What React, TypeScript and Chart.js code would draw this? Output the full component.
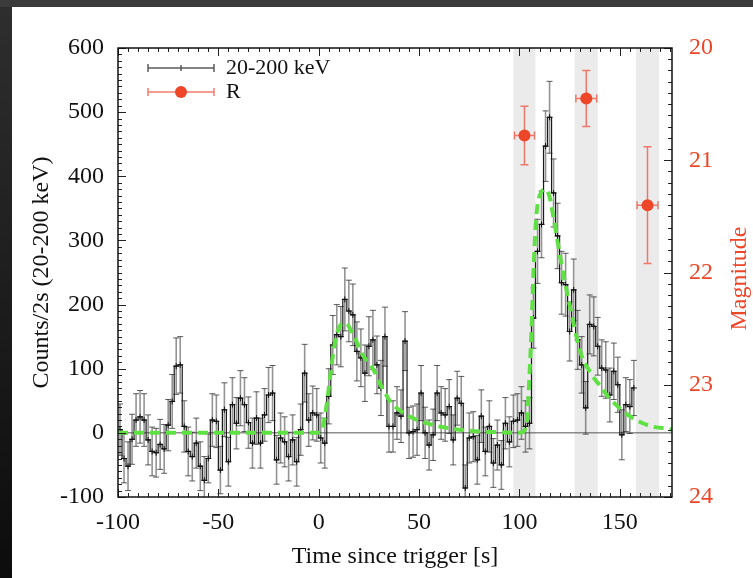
import React, { useEffect, useRef } from "react";
import { Chart, registerables } from "chart.js";

Chart.register(...registerables);

const FONT = "'Liberation Serif', 'DejaVu Serif', serif";
const RED = "#ee4628";
const INK = "#111111";

// 2 s bin centres (s)
const binTimes = [
  -99, -97, -95, -93, -91, -89, -87, -85, -83, -81,
  -79, -77, -75, -73, -71, -69, -67, -65, -63, -61,
  -59, -57, -55, -53, -51, -49, -47, -45, -43, -41,
  -39, -37, -35, -33, -31, -29, -27, -25, -23, -21,
  -19, -17, -15, -13, -11, -9, -7, -5, -3, -1,
  1, 3, 5, 7, 9, 11, 13, 15, 17, 19,
  21, 23, 25, 27, 29, 31, 33, 35, 37, 39,
  41, 43, 45, 47, 49, 51, 53, 55, 57, 59,
  61, 63, 65, 67, 69, 71, 73, 75, 77, 79,
  81, 83, 85, 87, 89, 91, 93, 95, 97, 99,
  101, 103, 105, 107, 109, 111, 113, 115, 117, 119,
  121, 123, 125, 127, 129, 131, 133, 135, 137, 139,
  141, 143, 145, 147, 149, 151, 153, 155, 157,
];

// Counts / 2 s (20-200 keV)
const counts = [
  5, -40, -52, -10, 20, 25, 20, -11, -29, -31,
  -18, -25, 12, 49, 104, 106, 10, -29, -37, -16,
  -52, -74, -40, 20, 18, -58, 36, -45, 44, 15,
  54, 44, 16, -16, 23, -16, 28, 59, 62, -42,
  -8, -14, -37, -11, -45, 5, 93, 20, 31, 28,
  -8, -16, 57, 137, 153, 150, 208, 190, 184, 127,
  117, 93, 135, 145, 106, 70, 150, 10, 10, 31,
  26, 143, 0, 2, 5, 62, 0, -19, -3, 62,
  31, 28, 41, -11, 54, 46, -86, -8, -6, -42,
  26, -29, 10, -47, -19, -50, 15, -14, 18, 20,
  31, 10, 15, 179, 283, 325, 447, 492, 374, 307,
  234, 231, 158, 223, 145, 106, 39, 169, 166, 135,
  101, 98, 59, 96, 75, -3, 44, 41, 70,
];

const countErrors = [
  40, 38, 38, 39, 41, 41, 41, 39, 38, 38,
  39, 38, 40, 42, 44, 44, 40, 38, 38, 39,
  38, 37, 38, 41, 41, 37, 42, 38, 42, 40,
  43, 42, 40, 39, 41, 39, 41, 43, 43, 38,
  39, 39, 38, 39, 38, 40, 45, 41, 42, 41,
  39, 39, 43, 46, 47, 47, 49, 48, 48, 46,
  45, 44, 46, 46, 45, 43, 46, 40, 40, 41,
  41, 46, 40, 40, 40, 43, 40, 39, 40, 43,
  41, 41, 42, 39, 42, 42, 36, 39, 39, 38,
  41, 38, 40, 38, 39, 38, 40, 39, 41, 41,
  41, 40, 40, 47, 50, 52, 55, 56, 53, 51,
  49, 49, 46, 48, 46, 44, 41, 46, 46, 45,
  44, 44, 42, 44, 43, 39, 42, 42, 43,
];

// Pulse model (green dashed)
const modelTimes = [
  -100, -10, 0, 1, 2, 4, 6, 8, 10, 12, 14, 16, 18, 20, 22, 24, 26, 28, 30,
  32, 34, 36, 40, 45, 50, 55, 60, 70, 80, 90, 100, 102, 104, 105, 106, 107,
  108, 109, 111, 113, 115, 117, 119, 121, 123, 125, 127, 129, 131, 133, 135,
  137, 140, 144, 148, 152, 156, 160, 166, 172, 176,
];
const modelCounts = [
  0, 0, 0, 1, 8, 45, 95, 140, 163, 171, 170, 160, 148, 134, 121, 112, 105, 94, 80,
  68, 57, 47, 36, 26, 19, 14, 10, 5, 2, 1, 0, 2, 30, 90, 160, 250,
  320, 355, 376, 380, 368, 335, 298, 262, 230, 200, 170, 142, 120, 106, 96,
  86, 74, 57, 44, 33, 24, 17, 10, 7, 5,
];

// R-band photometry
const rTimes = [102.5, 133.3, 163.8];
const rTimeErrors = [5, 5.2, 5.2];
const rMagnitudes = [20.78, 20.45, 21.4];
const rMagErrors = [0.26, 0.25, 0.52];

// Shaded exposure windows
const bandStarts = [97, 127.5, 158];
const bandEnds = [108, 139, 169.5];

const decorPlugin = {
  id: "decor",
  beforeDatasetsDraw(chart: any) {
    const { ctx, chartArea: a, scales } = chart;
    const x = scales.x, y = scales.y, y2 = scales.y2;
    ctx.save();
    ctx.beginPath();
    ctx.rect(a.left, a.top, a.right - a.left, a.bottom - a.top);
    ctx.clip();
    // bands
    ctx.fillStyle = "#ebebeb";
    bandStarts.forEach((s, i) => {
      const x1 = x.getPixelForValue(s);
      const x2 = x.getPixelForValue(bandEnds[i]);
      ctx.fillRect(x1, a.top, x2 - x1, a.bottom - a.top);
    });
    // zero line
    const y0 = y.getPixelForValue(0);
    ctx.strokeStyle = "#555";
    ctx.lineWidth = 1;
    ctx.beginPath();
    ctx.moveTo(a.left, y0);
    ctx.lineTo(a.right, y0);
    ctx.stroke();
    // count error bars
    binTimes.forEach((t, i) => {
      const px = x.getPixelForValue(t);
      const lo = y.getPixelForValue(counts[i] - countErrors[i]);
      const hi = y.getPixelForValue(counts[i] + countErrors[i]);
      ctx.strokeStyle = "rgba(60,60,60,0.55)";
      ctx.lineWidth = 1.6;
      ctx.beginPath();
      ctx.moveTo(px, lo);
      ctx.lineTo(px, hi);
      ctx.stroke();
      ctx.strokeStyle = "rgba(40,40,40,0.75)";
      ctx.lineWidth = 1;
      ctx.beginPath();
      ctx.moveTo(px - 3, lo);
      ctx.lineTo(px + 3, lo);
      ctx.moveTo(px - 3, hi);
      ctx.lineTo(px + 3, hi);
      ctx.stroke();
    });
    // R error bars
    ctx.strokeStyle = "rgba(238,80,60,0.75)";
    ctx.lineWidth = 1.5;
    rTimes.forEach((t, i) => {
      const px = x.getPixelForValue(t);
      const py = y2.getPixelForValue(rMagnitudes[i]);
      const xl = x.getPixelForValue(t - rTimeErrors[i]);
      const xr = x.getPixelForValue(t + rTimeErrors[i]);
      const yt = y2.getPixelForValue(rMagnitudes[i] - rMagErrors[i]);
      const yb = y2.getPixelForValue(rMagnitudes[i] + rMagErrors[i]);
      ctx.beginPath();
      ctx.moveTo(xl, py);
      ctx.lineTo(xr, py);
      ctx.moveTo(xl, py - 4);
      ctx.lineTo(xl, py + 4);
      ctx.moveTo(xr, py - 4);
      ctx.lineTo(xr, py + 4);
      ctx.moveTo(px, yt);
      ctx.lineTo(px, yb);
      ctx.moveTo(px - 4, yt);
      ctx.lineTo(px + 4, yt);
      ctx.moveTo(px - 4, yb);
      ctx.lineTo(px + 4, yb);
      ctx.stroke();
    });
    ctx.restore();
  },
  afterDraw(chart: any) {
    const { ctx, chartArea: a, scales } = chart;
    const x = scales.x, y = scales.y, y2 = scales.y2;
    ctx.save();
    // ticks inside the frame
    ctx.strokeStyle = "#222";
    ctx.lineWidth = 1;
    ctx.beginPath();
    for (let v = -100; v <= 175; v += 5) {
      const px = Math.round(x.getPixelForValue(v)) + 0.5;
      const len = v % 50 === 0 ? 8 : 4;
      ctx.moveTo(px, a.bottom);
      ctx.lineTo(px, a.bottom - len);
      ctx.moveTo(px, a.top);
      ctx.lineTo(px, a.top + len);
    }
    for (let v = -100; v <= 600; v += 10) {
      const py = Math.round(y.getPixelForValue(v)) + 0.5;
      const len = v % 100 === 0 ? 8 : 4;
      ctx.moveTo(a.left, py);
      ctx.lineTo(a.left + len, py);
    }
    for (let k = 200; k <= 240; k += 1) {
      const py = Math.round(y2.getPixelForValue(k / 10)) + 0.5;
      const len = k % 10 === 0 ? 8 : 4;
      ctx.moveTo(a.right, py);
      ctx.lineTo(a.right - len, py);
    }
    ctx.stroke();
    // frame
    ctx.strokeStyle = INK;
    ctx.lineWidth = 1.5;
    ctx.strokeRect(a.left, a.top, a.right - a.left, a.bottom - a.top);

    // legend
    const lx1 = a.left + 30, lx2 = a.left + 96, lxm = (lx1 + lx2) / 2;
    const ly1 = a.top + 20, ly2 = a.top + 44;
    ctx.lineWidth = 1.5;
    ctx.strokeStyle = "rgba(50,50,50,0.8)";
    ctx.beginPath();
    ctx.moveTo(lx1, ly1);
    ctx.lineTo(lx2, ly1);
    ctx.moveTo(lx1, ly1 - 4);
    ctx.lineTo(lx1, ly1 + 4);
    ctx.moveTo(lx2, ly1 - 4);
    ctx.lineTo(lx2, ly1 + 4);
    ctx.moveTo(lxm, ly1 - 3);
    ctx.lineTo(lxm, ly1 + 3);
    ctx.stroke();
    ctx.strokeStyle = "rgba(238,80,60,0.75)";
    ctx.beginPath();
    ctx.moveTo(lx1, ly2);
    ctx.lineTo(lx2, ly2);
    ctx.moveTo(lx1, ly2 - 4);
    ctx.lineTo(lx1, ly2 + 4);
    ctx.moveTo(lx2, ly2 - 4);
    ctx.lineTo(lx2, ly2 + 4);
    ctx.stroke();
    ctx.fillStyle = RED;
    ctx.beginPath();
    ctx.arc(lxm, ly2, 6, 0, Math.PI * 2);
    ctx.fill();
    ctx.fillStyle = INK;
    ctx.font = `22px ${FONT}`;
    ctx.textAlign = "left";
    ctx.textBaseline = "middle";
    ctx.fillText("20-200 keV", a.left + 108, ly1);
    ctx.fillText("R", a.left + 108, ly2);

    // right axis title (reads bottom to top)
    ctx.translate(a.right + 68, (a.top + a.bottom) / 2 + 6);
    ctx.rotate(-Math.PI / 2);
    ctx.fillStyle = RED;
    ctx.font = `24px ${FONT}`;
    ctx.textAlign = "center";
    ctx.textBaseline = "middle";
    ctx.fillText("Magnitude", 0, 0);
    ctx.restore();
  },
};

export default function App() {
  const canvasRef = useRef<HTMLCanvasElement | null>(null);

  useEffect(() => {
    const canvas = canvasRef.current;
    if (!canvas) return;
    const chart = new Chart(canvas, {
      type: "line",
      data: {
        datasets: [
          {
            label: "R",
            data: rTimes.map((t, i) => ({ x: t, y: rMagnitudes[i] })),
            yAxisID: "y2",
            showLine: false,
            pointRadius: 6,
            pointBackgroundColor: RED,
            pointBorderColor: RED,
            pointBorderWidth: 0,
            order: 0,
          },
          {
            label: "model",
            data: modelTimes.map((t, i) => ({ x: t, y: modelCounts[i] })),
            yAxisID: "y",
            borderColor: "#5fe043",
            borderWidth: 4,
            borderDash: [10, 6],
            pointRadius: 0,
            cubicInterpolationMode: "monotone",
            fill: false,
            order: 1,
          },
          {
            label: "20-200 keV",
            data: binTimes.map((t, i) => ({ x: t, y: counts[i] })),
            yAxisID: "y",
            stepped: "middle",
            borderColor: "#1a1a1a",
            borderWidth: 1.2,
            pointStyle: "cross",
            pointRadius: 3,
            pointBorderColor: "#111",
            pointBorderWidth: 1,
            fill: false,
            order: 2,
          },
        ] as any,
      },
      options: {
        animation: false,
        responsive: false,
        events: [],
        layout: { padding: { top: 41, left: 0, right: 0, bottom: 0 } },
        plugins: {
          legend: { display: false },
          tooltip: { enabled: false },
        },
        scales: {
          x: {
            type: "linear",
            position: "bottom",
            min: -100,
            max: 176,
            grid: { display: false, drawTicks: false },
            border: { display: false },
            ticks: {
              stepSize: 50,
              includeBounds: false,
              autoSkip: false,
              maxRotation: 0,
              padding: 11,
              color: INK,
              font: { family: FONT, size: 24 },
            },
            title: {
              display: true,
              text: "Time since trigger [s]",
              color: INK,
              font: { family: FONT, size: 24 },
              padding: { top: 0, bottom: 7 },
            },
            afterFit: (s: any) => {
              s.height = 81;
            },
          },
          y: {
            type: "linear",
            position: "left",
            min: -100,
            max: 600,
            grid: { display: false, drawTicks: false },
            border: { display: false },
            ticks: {
              stepSize: 100,
              includeBounds: false,
              padding: 14,
              color: INK,
              font: { family: FONT, size: 24 },
            },
            title: {
              display: true,
              text: "Counts/2s (20-200 keV)",
              color: INK,
              font: { family: FONT, size: 24 },
              padding: { top: 15, bottom: 0 },
            },
            afterFit: (s: any) => {
              s.width = 106;
            },
          },
          y2: {
            type: "linear",
            position: "right",
            min: 20,
            max: 24,
            reverse: true,
            grid: { display: false, drawTicks: false },
            border: { display: false },
            ticks: {
              stepSize: 1,
              includeBounds: false,
              padding: 17,
              color: RED,
              font: { family: FONT, size: 24 },
            },
            afterFit: (s: any) => {
              s.width = 81;
            },
          },
        },
      } as any,
      plugins: [decorPlugin],
    });
    return () => chart.destroy();
  }, []);

  return (
    <div
      style={{
        position: "fixed",
        left: 0,
        top: 0,
        width: 753,
        height: 578,
        background: "#3b3b3b",
        overflow: "hidden",
      }}
    >
      <div
        style={{
          position: "absolute",
          left: 0,
          top: 7,
          width: 12,
          height: 571,
          background: "linear-gradient(to bottom, #2e2e2e, #0c0c0c)",
        }}
      />
      <div
        style={{
          position: "absolute",
          left: 12,
          top: 7,
          width: 741,
          height: 571,
          background: "#ffffff",
        }}
      >
        <canvas ref={canvasRef} width={741} height={571} style={{ display: "block" }} />
      </div>
    </div>
  );
}
